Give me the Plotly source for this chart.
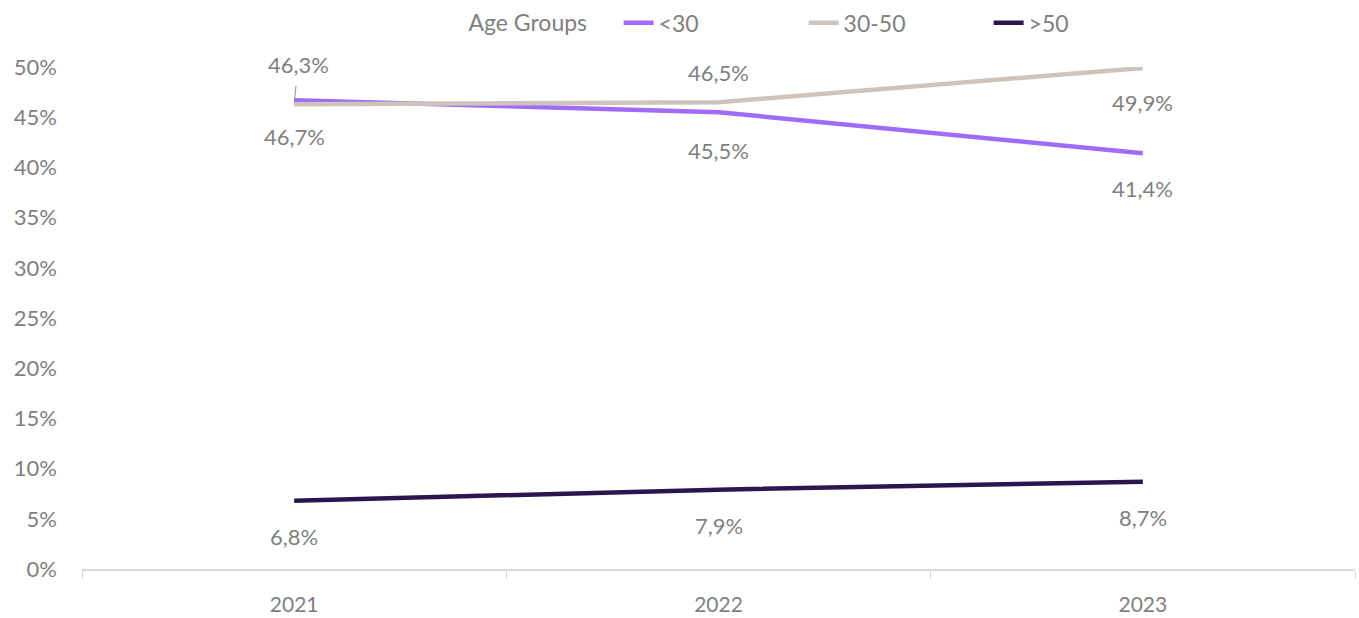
import plotly.graph_objects as go

years = ["2021", "2022", "2023"]
under_30 = [46.7, 45.5, 41.4]
from_30_to_50 = [46.3, 46.5, 49.9]
over_50 = [6.8, 7.9, 8.7]

series = [
    ("<30", under_30, "#a06cf7"),
    ("30-50", from_30_to_50, "#cdc4bc"),
    (">50", over_50, "#2b1650"),
]

# label offset (pixels) for each series at each year: positive = above
label_shift = {
    "<30": [-36, -38, -35],
    "30-50": [None, 30, -34],
    ">50": [-36, -36, -36],
}

TEXT = "#7f7f7f"
FONT = "Lato"
SIZE = 22

fig = go.Figure()
for name, vals, color in series:
    fig.add_trace(go.Scatter(
        x=years, y=vals, name=name, mode="lines",
        line=dict(color=color, width=4.5),
        hoverinfo="skip",
    ))


def fmt(v):
    return f"{v:.1f}".replace(".", ",") + "%"


annotations = []
for name, vals, color in series:
    for i, v in enumerate(vals):
        shift = label_shift[name][i]
        if shift is None:
            # label pulled up with a short leader line
            annotations.append(dict(
                x=i, y=v, xref="x", yref="y", text=fmt(v),
                showarrow=True, arrowhead=0, arrowwidth=1, arrowcolor="#8c8c8c",
                ax=4, ay=-40, standoff=1, startstandoff=7,
                font=dict(family=FONT, size=SIZE, color=TEXT),
            ))
        else:
            annotations.append(dict(
                x=i, y=v, xref="x", yref="y", text=fmt(v),
                showarrow=False, yshift=shift,
                font=dict(family=FONT, size=SIZE, color=TEXT),
            ))

fig.update_layout(
    width=1359, height=618,
    margin=dict(l=82, r=4, t=67, b=49, autoexpand=False),
    paper_bgcolor="white", plot_bgcolor="white",
    font=dict(family=FONT, size=SIZE, color=TEXT),
    showlegend=True,
    legend=dict(
        orientation="h", x=0.302, xanchor="left",
        yref="container", y=0.998, yanchor="top",
        title=dict(text="Age Groups    ", side="left", font=dict(size=23, color=TEXT)),
        font=dict(size=23, color=TEXT),
        entrywidth=140, entrywidthmode="pixels",
        traceorder="normal",
    ),
    annotations=annotations,
    xaxis=dict(
        type="category", showgrid=False, zeroline=False,
        showline=True, linecolor="#d9d9d9", linewidth=1.5,
        ticks="outside", tickson="boundaries", ticklen=8, tickcolor="#d9d9d9",
        tickfont=dict(family=FONT, size=21, color=TEXT),
        ticklabelstandoff=16,
        range=[-0.5, 2.5],
    ),
    yaxis=dict(
        range=[0, 50], dtick=5, tick0=0, ticksuffix="%",
        showgrid=False, zeroline=False, showline=False,
        tickfont=dict(family=FONT, size=SIZE, color=TEXT),
        ticklabelstandoff=24,
    ),
)

fig.write_html("out.html")
